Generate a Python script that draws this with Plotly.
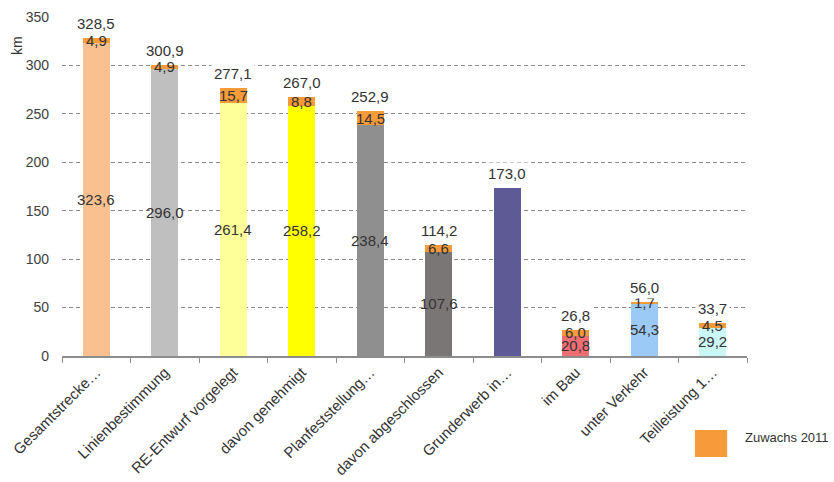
import plotly.graph_objects as go

# Streckenlängen in km je Planungs-/Baustand
categories = [
    "Gesamtstrecke…", "Linienbestimmung", "RE-Entwurf vorgelegt", "davon genehmigt",
    "Planfeststellung…", "davon abgeschlossen", "Grunderwerb in…", "im Bau",
    "unter Verkehr", "Teilleistung 1…",
]
stand_vorjahr = [323.6, 296.0, 261.4, 258.2, 238.4, 107.6, 173.0, 20.8, 54.3, 29.2]
zuwachs_2011 = [4.9, 4.9, 15.7, 8.8, 14.5, 6.6, 0.0, 6.0, 1.7, 4.5]
bar_colors = [
    "#FAC090", "#BFBFBF", "#FFFF99", "#FFFF00", "#8F8F8F",
    "#7B7676", "#5E5A96", "#EE6E73", "#9CCAF7", "#CCF7F7",
]
zuwachs_color = "#F69A3A"
y_ticks = [0, 50, 100, 150, 200, 250, 300, 350]

FONT = "Liberation Sans, Arial, sans-serif"
TXT = "#333333"


def de(v):
    return f"{v:.1f}".replace(".", ",")


fig = go.Figure()
fig.add_trace(go.Bar(
    x=categories, y=stand_vorjahr, marker=dict(color=bar_colors, line=dict(width=0)),
    width=0.4, showlegend=False, hoverinfo="skip",
))
fig.add_trace(go.Bar(
    x=categories, y=zuwachs_2011, marker=dict(color=zuwachs_color, line=dict(width=0)),
    width=0.4, name="Zuwachs 2011", showlegend=False, hoverinfo="skip",
))

annotations = []
for cat, base, inc in zip(categories, stand_vorjahr, zuwachs_2011):
    total = base + inc
    if inc > 0:
        # Wert des Vorjahresstands in Balkenmitte
        annotations.append(dict(
            x=cat, y=base / 2, text=de(base), showarrow=False,
            font=dict(size=15, color=TXT, family=FONT),
        ))
        # Zuwachs mittig im orangen Segment
        annotations.append(dict(
            x=cat, y=base + inc / 2, text=de(inc), showarrow=False,
            font=dict(size=15, color=TXT, family=FONT),
        ))
    # Gesamtwert über dem Balken
    annotations.append(dict(
        x=cat, y=total, text=de(total), showarrow=False, yanchor="bottom",
        yshift=3, bgcolor="white", borderpad=2,
        font=dict(size=15, color=TXT, family=FONT),
    ))

# Achsenbeschriftung "km"
annotations.append(dict(
    xref="paper", yref="paper", x=-0.066, y=0.917, xanchor="center", yanchor="middle",
    text="km", textangle=-90, showarrow=False,
    font=dict(size=14, color=TXT, family=FONT),
))
# Legende
annotations.append(dict(
    xref="paper", yref="paper", x=0.994, y=-0.239, xanchor="left", yanchor="middle",
    text="Zuwachs 2011", showarrow=False,
    font=dict(size=13, color=TXT, family=FONT),
))

fig.update_layout(
    width=834, height=482,
    margin=dict(l=62, r=87, t=17, b=126),
    barmode="stack",
    bargap=0.6,
    paper_bgcolor="white", plot_bgcolor="white",
    font=dict(family=FONT, color=TXT),
    annotations=annotations,
    shapes=[dict(
        type="rect", xref="paper", yref="paper",
        x0=0.924, x1=0.971, y0=-0.298, y1=-0.218,
        fillcolor=zuwachs_color, line=dict(width=0),
    )],
)
fig.update_yaxes(
    range=[0, 350], tickvals=y_ticks, showgrid=True, gridcolor="#8C8C8C",
    gridwidth=1, griddash="4px,3px", zeroline=False, showline=False,
    ticks="", ticklabelstandoff=12, automargin=False,
    tickfont=dict(size=14, color="#404040", family=FONT),
)
fig.update_xaxes(
    showline=True, linecolor="#8C8C8C", linewidth=1.5,
    ticks="outside", tickson="boundaries", ticklen=5, tickcolor="#8C8C8C",
    tickangle=-45, tickfont=dict(size=15, color=TXT, family=FONT),
    showgrid=False, automargin=False,
)

fig.write_html("out.html")
